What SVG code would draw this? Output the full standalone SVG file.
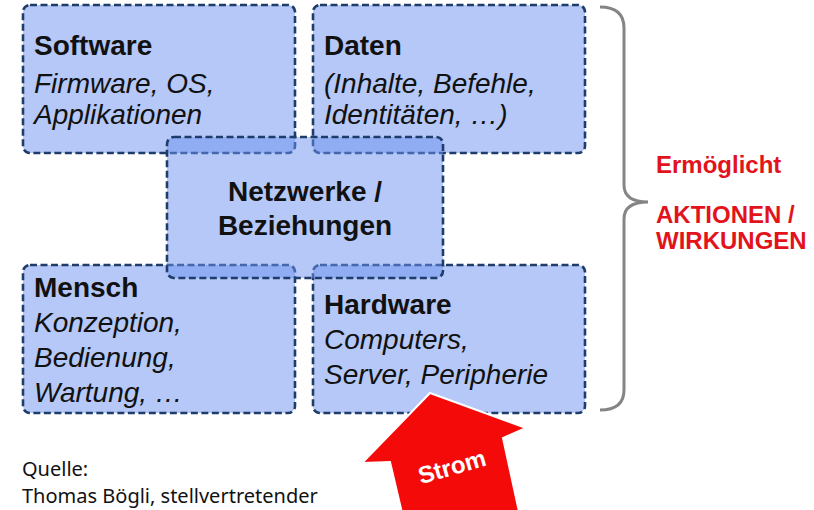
<svg xmlns="http://www.w3.org/2000/svg" width="814" height="510" viewBox="0 0 814 510">
<style>
.box{fill:#6c91ef;fill-opacity:0.5;stroke:#1f3d6b;stroke-width:2.6;stroke-dasharray:7 3.5}
.t{font-family:"Liberation Sans",Arial,sans-serif;font-size:28px;fill:#111}
.b{font-weight:bold}
.i{font-style:italic}
.red{font-family:"Liberation Sans",Arial,sans-serif;font-size:24px;font-weight:bold;fill:#e3131b}
.src{font-family:"Noto Sans","Open Sans",sans-serif;font-size:20px;fill:#111}
</style>
<rect width="814" height="510" fill="#fff"/>
<g id="software">
<rect class="box" x="23" y="5" width="272" height="148" rx="7"/>
<text class="t b" x="34" y="55">Software</text>
<text class="t i" x="34" y="93">Firmware, OS,</text>
<text class="t i" x="34" y="124">Applikationen</text>
</g>
<g id="daten">
<rect class="box" x="313" y="5" width="272" height="148" rx="7"/>
<text class="t b" x="324" y="55">Daten</text>
<text class="t i" x="324" y="93">(Inhalte, Befehle,</text>
<text class="t i" x="324" y="124">Identitäten, …)</text>
</g>
<g id="mensch">
<rect class="box" x="23" y="265" width="272" height="148" rx="7"/>
<text class="t b" x="34" y="297">Mensch</text>
<text class="t i" x="34" y="332">Konzeption,</text>
<text class="t i" x="34" y="367">Bedienung,</text>
<text class="t i" x="34" y="402">Wartung, …</text>
</g>
<g id="hardware">
<rect class="box" x="313" y="265" width="272" height="148" rx="7"/>
<text class="t b" x="324" y="314">Hardware</text>
<text class="t i" x="324" y="349">Computers,</text>
<text class="t i" x="324" y="384">Server, Peripherie</text>
</g>
<g id="netzwerke">
<rect class="box" x="167" y="137" width="276" height="141" rx="7"/>
<text class="t b" x="305" y="201" text-anchor="middle">Netzwerke /</text>
<text class="t b" x="305" y="235" text-anchor="middle">Beziehungen</text>
</g>
<g id="connectors">
<path d="M600,7 Q624,7 624,28 L624,185 Q624,202 648,202 Q624,202 624,219 L624,390 Q624,410 600,410" fill="none" stroke="#858585" stroke-width="3"/>
</g>
<g id="aktionen">
<text class="red" x="656" y="173">Ermöglicht</text>
<text class="red" x="656" y="223">AKTIONEN /</text>
<text class="red" x="656" y="249">WIRKUNGEN</text>
</g>
<g id="strom">
<polygon points="430,393 526,428 503,438 523,530 406,530 390,462 362,463" fill="#f50a0a" stroke="#fff" stroke-width="2" stroke-linejoin="miter"/>
<text x="452" y="475" transform="rotate(-16 452 467)" text-anchor="middle" font-family="Liberation Sans,Arial,sans-serif" font-size="24" font-weight="bold" fill="#fff">Strom</text>
</g>
<g id="quelle">
<text class="src" x="22" y="476">Quelle:</text>
<text class="src" x="22" y="503">Thomas Bögli, stellvertretender</text>
</g>
</svg>
